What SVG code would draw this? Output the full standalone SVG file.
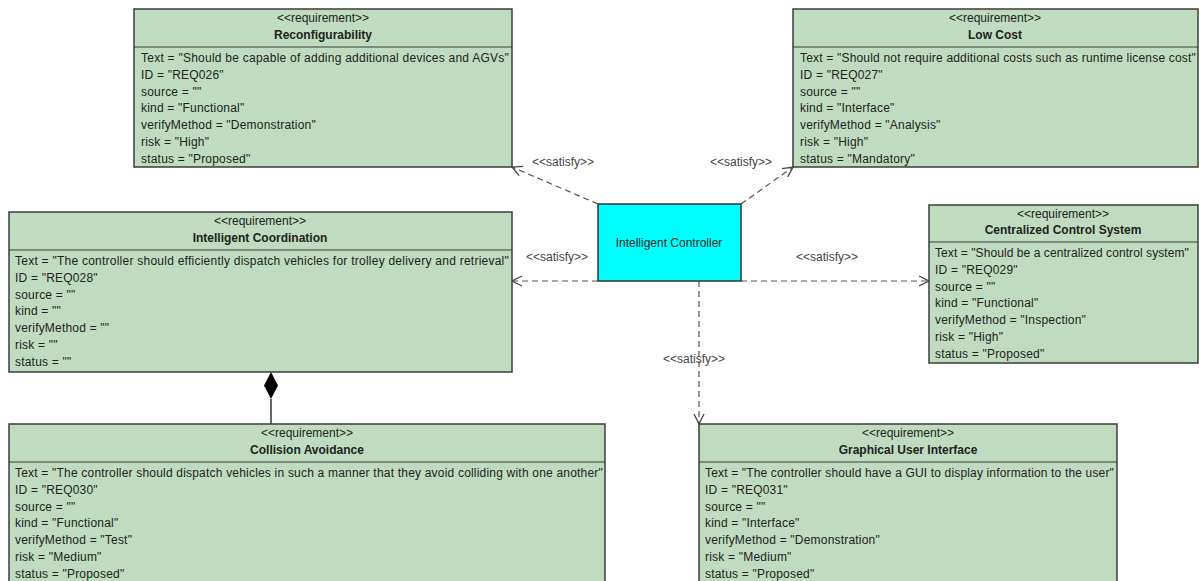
<svg xmlns="http://www.w3.org/2000/svg" width="1199" height="581" viewBox="0 0 1199 581">
<style>
.box{fill:#c0dcc0;stroke:#3c3c3c;stroke-width:1.5}
.div{stroke:#3c3c3c;stroke-width:1.2}
.st{font-family:"Liberation Sans",Arial,sans-serif;font-size:12px;fill:#222;text-anchor:middle}
.nm{font-family:"Liberation Sans",Arial,sans-serif;font-size:12px;font-weight:bold;fill:#222;text-anchor:middle}
.bd{font-family:"Liberation Sans",Arial,sans-serif;font-size:12px;fill:#222;letter-spacing:0.2px}
.ctrl{fill:#00ffff;stroke:#333;stroke-width:1.5}
.con{stroke:#555;stroke-width:1.2;fill:none;stroke-dasharray:6 4}
.lbl{font-family:"Liberation Sans",Arial,sans-serif;font-size:12px;fill:#444;text-anchor:middle}
</style>
<defs>
<marker id="open" viewBox="0 0 12 12" refX="11" refY="6" markerWidth="12" markerHeight="12" markerUnits="userSpaceOnUse" orient="auto">
<path d="M1,1 L11,6 L1,11" fill="none" stroke="#444" stroke-width="1.3"/>
</marker>
</defs>

<g id="connectors">
<line class="con" x1="598" y1="204" x2="512" y2="167" marker-end="url(#open)"/>
<line class="con" x1="741" y1="204" x2="793" y2="167" marker-end="url(#open)"/>
<line class="con" x1="598" y1="281" x2="512" y2="281" marker-end="url(#open)"/>
<line class="con" x1="741" y1="281" x2="929" y2="281" marker-end="url(#open)"/>
<line class="con" x1="699" y1="281" x2="699" y2="424" marker-end="url(#open)"/>
<line x1="271" y1="399" x2="271" y2="424" stroke="#000" stroke-width="1.2"/>
<path d="M271,372 L278,385.5 L271,399 L264,385.5 Z" fill="#000"/>
<text class="lbl" x="563" y="166">&lt;&lt;satisfy&gt;&gt;</text>
<text class="lbl" x="741" y="166">&lt;&lt;satisfy&gt;&gt;</text>
<text class="lbl" x="557" y="261">&lt;&lt;satisfy&gt;&gt;</text>
<text class="lbl" x="827" y="261">&lt;&lt;satisfy&gt;&gt;</text>
<text class="lbl" x="694" y="363">&lt;&lt;satisfy&gt;&gt;</text>
</g>

<g id="controller">
<rect class="ctrl" x="598" y="204" width="143" height="77"/>
<text class="lbl" x="669" y="247" style="fill:#222">Intelligent Controller</text>
</g>

<g id="reconfigurability">
<rect class="box" x="134" y="9" width="378" height="158"/>
<line class="div" x1="134" y1="47" x2="512" y2="47"/>
<text class="st" x="323" y="22">&lt;&lt;requirement&gt;&gt;</text>
<text class="nm" x="323" y="38.5">Reconfigurability</text>
<text class="bd" x="141" y="62" textLength="368">Text = "Should be capable of adding additional devices and AGVs"</text>
<text class="bd" x="141" y="78.8">ID = "REQ026"</text>
<text class="bd" x="141" y="95.6">source = ""</text>
<text class="bd" x="141" y="112.4">kind = "Functional"</text>
<text class="bd" x="141" y="129.2">verifyMethod = "Demonstration"</text>
<text class="bd" x="141" y="146">risk = "High"</text>
<text class="bd" x="141" y="162.8">status = "Proposed"</text>
</g>

<g id="lowcost">
<rect class="box" x="793" y="9" width="405" height="158"/>
<line class="div" x1="793" y1="47" x2="1198" y2="47"/>
<text class="st" x="995" y="22">&lt;&lt;requirement&gt;&gt;</text>
<text class="nm" x="995" y="38.5">Low Cost</text>
<text class="bd" x="800" y="62" textLength="396">Text = "Should not require additional costs such as runtime license cost"</text>
<text class="bd" x="800" y="78.8">ID = "REQ027"</text>
<text class="bd" x="800" y="95.6">source = ""</text>
<text class="bd" x="800" y="112.4">kind = "Interface"</text>
<text class="bd" x="800" y="129.2">verifyMethod = "Analysis"</text>
<text class="bd" x="800" y="146">risk = "High"</text>
<text class="bd" x="800" y="162.8">status = "Mandatory"</text>
</g>

<g id="intelligent-coordination">
<rect class="box" x="9" y="212" width="503" height="160"/>
<line class="div" x1="9" y1="250" x2="512" y2="250"/>
<text class="st" x="260" y="225">&lt;&lt;requirement&gt;&gt;</text>
<text class="nm" x="260" y="241.5">Intelligent Coordination</text>
<text class="bd" x="15" y="265" textLength="494">Text = "The controller should efficiently dispatch vehicles for trolley delivery and retrieval"</text>
<text class="bd" x="15" y="281.8">ID = "REQ028"</text>
<text class="bd" x="15" y="298.6">source = ""</text>
<text class="bd" x="15" y="315.4">kind = ""</text>
<text class="bd" x="15" y="332.2">verifyMethod = ""</text>
<text class="bd" x="15" y="349">risk = ""</text>
<text class="bd" x="15" y="365.8">status = ""</text>
</g>

<g id="centralized">
<rect class="box" x="929" y="205" width="269" height="158"/>
<line class="div" x1="929" y1="242" x2="1198" y2="242"/>
<text class="st" x="1063" y="218">&lt;&lt;requirement&gt;&gt;</text>
<text class="nm" x="1063" y="234">Centralized Control System</text>
<text class="bd" x="935" y="257" textLength="254">Text = "Should be a centralized control system"</text>
<text class="bd" x="935" y="273.8">ID = "REQ029"</text>
<text class="bd" x="935" y="290.6">source = ""</text>
<text class="bd" x="935" y="307.4">kind = "Functional"</text>
<text class="bd" x="935" y="324.2">verifyMethod = "Inspection"</text>
<text class="bd" x="935" y="341">risk = "High"</text>
<text class="bd" x="935" y="357.8">status = "Proposed"</text>
</g>

<g id="collision-avoidance">
<rect class="box" x="9" y="424" width="596" height="170"/>
<line class="div" x1="9" y1="462" x2="605" y2="462"/>
<text class="st" x="307" y="437">&lt;&lt;requirement&gt;&gt;</text>
<text class="nm" x="307" y="453.5">Collision Avoidance</text>
<text class="bd" x="15" y="477" textLength="588">Text = "The controller should dispatch vehicles in such a manner that they avoid colliding with one another"</text>
<text class="bd" x="15" y="493.8">ID = "REQ030"</text>
<text class="bd" x="15" y="510.6">source = ""</text>
<text class="bd" x="15" y="527.4">kind = "Functional"</text>
<text class="bd" x="15" y="544.2">verifyMethod = "Test"</text>
<text class="bd" x="15" y="561">risk = "Medium"</text>
<text class="bd" x="15" y="577.8">status = "Proposed"</text>
</g>

<g id="gui">
<rect class="box" x="699" y="424" width="418" height="170"/>
<line class="div" x1="699" y1="462" x2="1117" y2="462"/>
<text class="st" x="908" y="437">&lt;&lt;requirement&gt;&gt;</text>
<text class="nm" x="908" y="453.5">Graphical User Interface</text>
<text class="bd" x="705" y="477" textLength="409">Text = "The controller should have a GUI to display information to the user"</text>
<text class="bd" x="705" y="493.8">ID = "REQ031"</text>
<text class="bd" x="705" y="510.6">source = ""</text>
<text class="bd" x="705" y="527.4">kind = "Interface"</text>
<text class="bd" x="705" y="544.2">verifyMethod = "Demonstration"</text>
<text class="bd" x="705" y="561">risk = "Medium"</text>
<text class="bd" x="705" y="577.8">status = "Proposed"</text>
</g>
</svg>
